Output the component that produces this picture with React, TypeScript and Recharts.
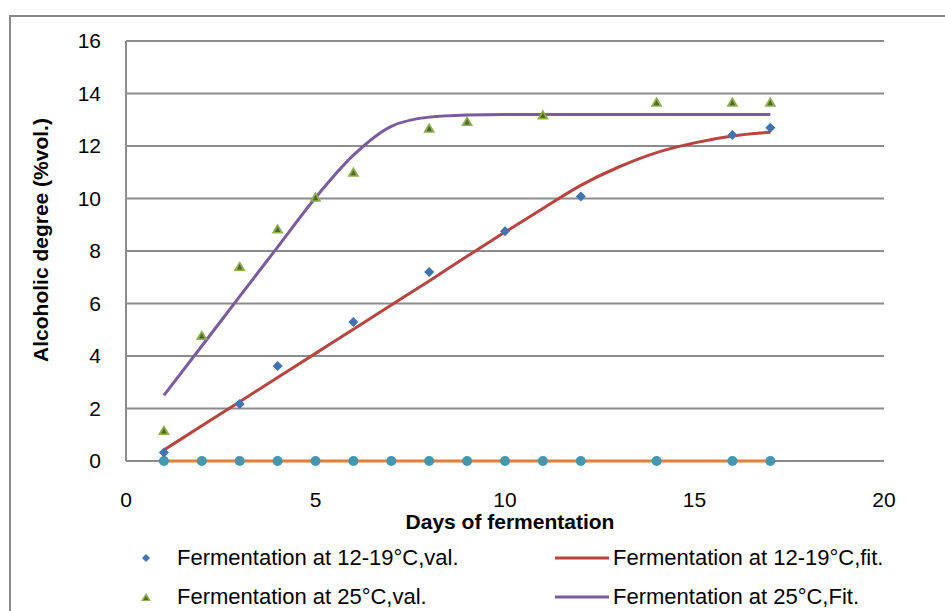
import React from 'react';
import { ComposedChart, Line, Scatter, XAxis, YAxis, CartesianGrid, Label } from 'recharts';

// Fermentation at 12-19°C, measured values
const lowValDays = [1, 3, 4, 6, 8, 10, 12, 16, 17];
const lowValValues = [0.32, 2.17, 3.62, 5.3, 7.2, 8.75, 10.08, 12.42, 12.7];

// Fermentation at 25°C, measured values
const highValDays = [1, 2, 3, 4, 5, 6, 8, 9, 11, 14, 16, 17];
const highValValues = [1.18, 4.8, 7.43, 8.86, 10.07, 11.02, 12.7, 12.95, 13.2, 13.69, 13.69, 13.69];

// fitted curves, one value per day
const fitDays = [1, 2, 3, 4, 5, 6, 7, 8, 9, 10, 11, 12, 13, 14, 15, 16, 17];
const lowFitValues = [0.42, 1.34, 2.26, 3.18, 4.1, 5.02, 5.94, 6.86, 7.8, 8.72, 9.62, 10.5, 11.2, 11.75, 12.12, 12.38, 12.52];
const highFitValues = [2.5, 4.38, 6.27, 8.15, 10.03, 11.65, 12.75, 13.1, 13.18, 13.2, 13.2, 13.2, 13.2, 13.2, 13.2, 13.2, 13.2];

// baseline series sitting on zero
const zeroDays = [1, 2, 3, 4, 5, 6, 7, 8, 9, 10, 11, 12, 14, 16, 17];
const zeroValues = [0, 0, 0, 0, 0, 0, 0, 0, 0, 0, 0, 0, 0, 0, 0];

const xTicks = [0, 5, 10, 15, 20];
const yTicks = [0, 2, 4, 6, 8, 10, 12, 14, 16];

const pairs = (xs: number[], ys: number[]) => xs.map((x, i) => ({ x, y: ys[i] }));

const lowVal = pairs(lowValDays, lowValValues);
const highVal = pairs(highValDays, highValValues);
const lowFit = pairs(fitDays, lowFitValues);
const highFit = pairs(fitDays, highFitValues);
const zeroLine = pairs(zeroDays, zeroValues);

const FONT = '"Liberation Sans", Arial, sans-serif';
const GRID = '#8c8c8c';
const RED = '#b8433f';
const PURPLE = '#7a5c9e';
const BLUE = '#3f73b3';
const GREEN = '#8fae4e';
const DARK_GREEN = '#4f6a22';
const ORANGE = '#e07f35';
const TEAL = '#4397b0';

function Diamond({ cx, cy, r = 5 }: { cx?: number; cy?: number; r?: number }) {
  if (cx == null || cy == null) return null;
  return (
    <polygon
      points={`${cx},${cy - r} ${cx + r},${cy} ${cx},${cy + r} ${cx - r},${cy}`}
      fill={BLUE}
    />
  );
}

function Triangle({ cx, cy, s = 1 }: { cx?: number; cy?: number; s?: number }) {
  if (cx == null || cy == null) return null;
  const w = 6 * s;
  const h = 5 * s;
  return (
    <g>
      <polygon points={`${cx},${cy - h} ${cx + w},${cy + h} ${cx - w},${cy + h}`} fill={GREEN} />
      <polygon
        points={`${cx},${cy - h * 0.4} ${cx + w * 0.45},${cy + h * 0.7} ${cx - w * 0.45},${cy + h * 0.7}`}
        fill={DARK_GREEN}
      />
    </g>
  );
}

function YTitle() {
  return (
    <text
      x={40}
      y={240}
      transform="rotate(-90, 40, 240)"
      textAnchor="middle"
      dominantBaseline="central"
      fontFamily={FONT}
      fontWeight="bold"
      fontSize={21}
      fill="#000"
    >
      Alcoholic degree (%vol.)
    </text>
  );
}

function LegendRow({ top, left, marker, label }: { top: number; left: number; marker: React.ReactNode; label: string }) {
  return (
    <div style={{ position: 'absolute', top, left, height: 30, display: 'flex', alignItems: 'center' }}>
      {marker}
      <span style={{ fontFamily: FONT, fontSize: 22, color: '#000', whiteSpace: 'nowrap' }}>{label}</span>
    </div>
  );
}

export default function App() {
  return (
    <div style={{ position: 'absolute', left: 0, top: 0, width: 945, height: 611, overflow: 'hidden', background: '#fff' }}>
      <div
        style={{
          position: 'absolute',
          left: 9,
          top: 15,
          width: 1000,
          height: 700,
          border: '2px solid #8a8a8a',
        }}
      />
      <div style={{ position: 'absolute', left: 0, top: 0 }}>
        <ComposedChart width={945} height={611} margin={{ top: 41, right: 61, left: 0, bottom: 0 }}>
          <CartesianGrid vertical={false} stroke={GRID} strokeWidth={2} />
          <XAxis
            type="number"
            dataKey="x"
            domain={[0, 20]}
            ticks={xTicks}
            height={150}
            tickSize={0}
            tickMargin={31}
            axisLine={false}
            tickLine={false}
            tick={{ fill: '#000', fontSize: 21, fontFamily: FONT }}
          >
            <Label
              value="Days of fermentation"
              position="insideTop"
              offset={53}
              dx={5}
              style={{ fontFamily: FONT, fontWeight: 'bold', fontSize: 21, fill: '#000' }}
            />
          </XAxis>
          <YAxis
            type="number"
            dataKey="y"
            domain={[0, 16]}
            ticks={yTicks}
            width={126}
            tickSize={0}
            tickMargin={25}
            axisLine={{ stroke: GRID, strokeWidth: 2 }}
            tickLine={false}
            tick={{ fill: '#000', fontSize: 21, fontFamily: FONT }}
          >
            <Label content={() => <YTitle />} />
          </YAxis>

          <Line
            data={zeroLine}
            dataKey="y"
            type="linear"
            stroke={ORANGE}
            strokeWidth={3}
            dot={{ r: 5, fill: TEAL, stroke: 'none', strokeWidth: 0 }}
            isAnimationActive={false}
            legendType="none"
          />
          <Line
            data={lowFit}
            dataKey="y"
            type="monotone"
            stroke={RED}
            strokeWidth={3}
            dot={false}
            isAnimationActive={false}
          />
          <Line
            data={highFit}
            dataKey="y"
            type="monotone"
            stroke={PURPLE}
            strokeWidth={3}
            dot={false}
            isAnimationActive={false}
          />
          <Scatter data={lowVal} dataKey="y" shape={(p: any) => <Diamond cx={p.cx} cy={p.cy} />} isAnimationActive={false} />
          <Scatter data={highVal} dataKey="y" shape={(p: any) => <Triangle cx={p.cx} cy={p.cy} />} isAnimationActive={false} />
        </ComposedChart>
      </div>

      <LegendRow
        top={543}
        left={140}
        marker={
          <svg width={37} height={30}>
            <polygon points="6,11 10,15 6,19 2,15" fill={BLUE} />
          </svg>
        }
        label="Fermentation at 12-19°C,val."
      />
      <LegendRow
        top={582}
        left={140}
        marker={
          <svg width={37} height={30}>
            <polygon points="6,11 11,19 1,19" fill={GREEN} />
            <polygon points="6,14 8.5,18 3.5,18" fill={DARK_GREEN} />
          </svg>
        }
        label="Fermentation at 25°C,val."
      />
      <LegendRow
        top={543}
        left={555}
        marker={
          <svg width={58} height={30}>
            <line x1={0} y1={15} x2={54} y2={15} stroke={RED} strokeWidth={3} />
          </svg>
        }
        label="Fermentation at 12-19°C,fit."
      />
      <LegendRow
        top={582}
        left={555}
        marker={
          <svg width={58} height={30}>
            <line x1={0} y1={15} x2={54} y2={15} stroke={PURPLE} strokeWidth={3} />
          </svg>
        }
        label="Fermentation at 25°C,Fit."
      />
    </div>
  );
}
